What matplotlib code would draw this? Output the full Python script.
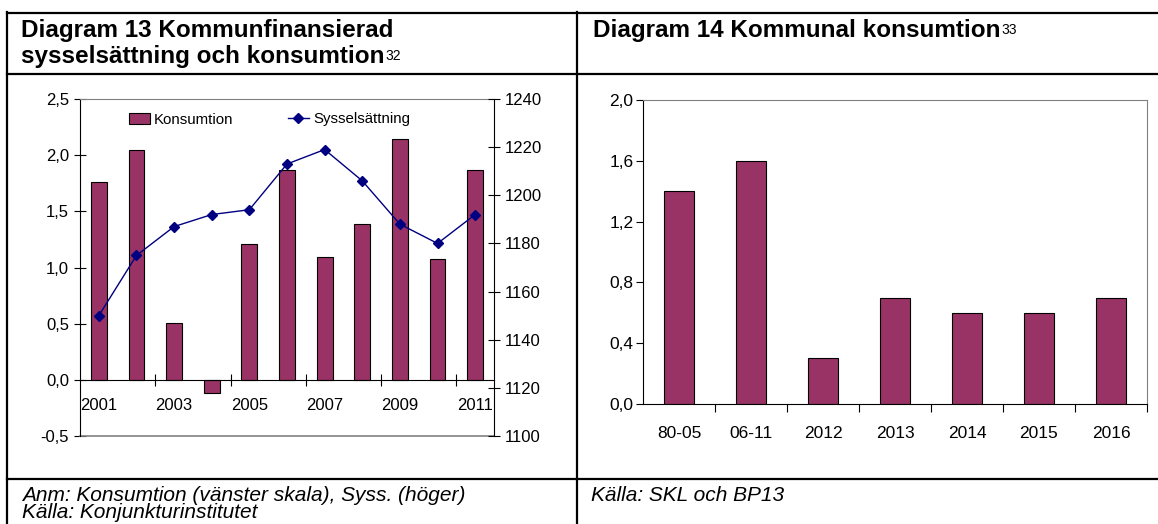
import matplotlib
matplotlib.use('Agg')
import matplotlib.pyplot as plt
from matplotlib.lines import Line2D
from matplotlib.patches import Patch
from matplotlib.ticker import FuncFormatter

plt.rcParams['font.family'] = ['Liberation Sans', 'DejaVu Sans']

# Diagram 13
years = ['2001', '2002', '2003', '2004', '2005', '2006', '2007', '2008', '2009', '2010', '2011']
konsumtion = [1.76, 2.05, 0.51, -0.12, 1.21, 1.87, 1.09, 1.39, 2.14, 1.08, 1.87]
syss = [1150, 1175, 1187, 1192, 1194, 1213, 1219, 1206, 1188, 1180, 1192]

# Diagram 14
perioder = ['80-05', '06-11', '2012', '2013', '2014', '2015', '2016']
kommunal = [1.4, 1.6, 0.3, 0.7, 0.6, 0.6, 0.7]

BAR = '#993366'
LINE = '#000080'
GRAY = '#808080'

W, H = 1158, 524
fig = plt.figure(figsize=(W / 100, H / 100), dpi=100)


def box(x0, y0, x1, y1):
    # pixel box, origin top left
    return [x0 / W, 1 - y1 / H, (x1 - x0) / W, (y1 - y0) / H]


def fx(x):
    return x / W


def fy(y):
    return 1 - y / H


def rule(xs, ys):
    fig.add_artist(Line2D([fx(v) for v in xs], [fy(v) for v in ys], color='black', lw=1.6))


comma = FuncFormatter(lambda v, p: f'{v:.1f}'.replace('.', ','))

# frame of the two boxes
rule([7, W], [12.5, 12.5])
rule([7, W], [74, 74])
rule([7, W], [479, 479])
rule([7, 7], [12, H])
rule([577, 577], [12, H])

HEAD = 17.5


def header(x, y, text, sup=None):
    t = fig.text(fx(x), fy(y), text, fontsize=HEAD, fontweight='bold', va='center', ha='left')
    if sup:
        bb = t.get_window_extent(fig.canvas.get_renderer())
        fig.text(bb.x1 / W + 0.0008, bb.y1 / H - 0.008, sup, fontsize=10, va='top', ha='left')


header(21, 30, 'Diagram 13 Kommunfinansierad')
header(21, 56, 'sysselsättning och konsumtion', '32')
header(593, 30, 'Diagram 14 Kommunal konsumtion', '33')

# footnotes (baseline placed so the second line stays inside the picture)
fig.text(fx(22), fy(501), 'Anm: Konsumtion (vänster skala), Syss. (höger)', fontsize=15, style='italic', va='baseline')
fig.text(fx(22), fy(518.5), 'Källa: Konjunkturinstitutet', fontsize=15, style='italic', va='baseline')
fig.text(fx(591), fy(501), 'Källa: SKL och BP13', fontsize=15, style='italic', va='baseline')

# ---- Diagram 13 ----
ax1 = fig.add_axes(box(80, 99, 494, 436))
xs = list(range(len(years)))
ax1.bar(xs, konsumtion, width=0.42, color=BAR, edgecolor='black', lw=0.8, zorder=2)
ax1.set_xlim(-0.5, len(years) - 0.5)
ax1.set_ylim(-0.5, 2.5)
ax1.set_yticks([-0.5, 0, 0.5, 1.0, 1.5, 2.0, 2.5])
ax1.yaxis.set_major_formatter(comma)
ax1.spines['bottom'].set_position(('data', 0))
ax1.spines['top'].set_color(GRAY)
ax1.spines['right'].set_visible(False)
ax1.axhline(-0.5, color=GRAY, lw=1.2, clip_on=False)
ax1.set_xticks([i + 0.5 for i in xs[1:-1:2]])
ax1.set_xticklabels([])
ax1.set_xticks(xs[::2], minor=True)
ax1.set_xticklabels(years[::2], minor=True)
ax1.tick_params(axis='x', which='major', direction='inout', length=8, width=0.8)
ax1.tick_params(axis='x', which='minor', length=0, pad=13, labelsize=12)
ax1.tick_params(axis='y', direction='inout', length=8, width=0.8, labelsize=12, pad=4)

ax2 = ax1.twinx()
ax2.plot(xs, syss, color=LINE, marker='D', ms=5, lw=1)
ax2.set_ylim(1100, 1240)
ax2.set_yticks(range(1100, 1241, 20))
for s in ['top', 'bottom', 'left']:
    ax2.spines[s].set_visible(False)
ax2.tick_params(axis='y', direction='inout', length=8, width=0.8, labelsize=12, pad=4)

handles = [Patch(facecolor=BAR, edgecolor='black', lw=0.8),
           Line2D([], [], color=LINE, marker='D', ms=5, lw=1)]
ax2.legend(handles, ['Konsumtion', 'Sysselsättning'], ncol=2, frameon=False,
           loc='upper left', bbox_to_anchor=(0.085, 1.0), fontsize=10.8,
           handlelength=1.4, handletextpad=0.3, columnspacing=3.6)

# ---- Diagram 14 ----
ax3 = fig.add_axes(box(643, 100, 1147, 404))
xs3 = list(range(len(perioder)))
ax3.bar(xs3, kommunal, width=0.41, color=BAR, edgecolor='black', lw=0.8)
ax3.set_xlim(-0.5, len(perioder) - 0.5)
ax3.set_ylim(0, 2.0)
ax3.set_yticks([0, 0.4, 0.8, 1.2, 1.6, 2.0])
ax3.yaxis.set_major_formatter(comma)
ax3.spines['top'].set_color(GRAY)
ax3.spines['right'].set_color(GRAY)
ax3.set_xticks([i + 0.5 for i in xs3])
ax3.set_xticklabels([])
ax3.set_xticks(xs3, minor=True)
ax3.set_xticklabels(perioder, minor=True)
ax3.tick_params(axis='x', which='major', direction='out', length=6, width=0.8)
ax3.tick_params(axis='x', which='minor', length=0, pad=16, labelsize=12.5)
ax3.tick_params(axis='y', direction='out', length=5, width=0.8, labelsize=12.5, pad=2)

fig.savefig('out.png', dpi=100)
